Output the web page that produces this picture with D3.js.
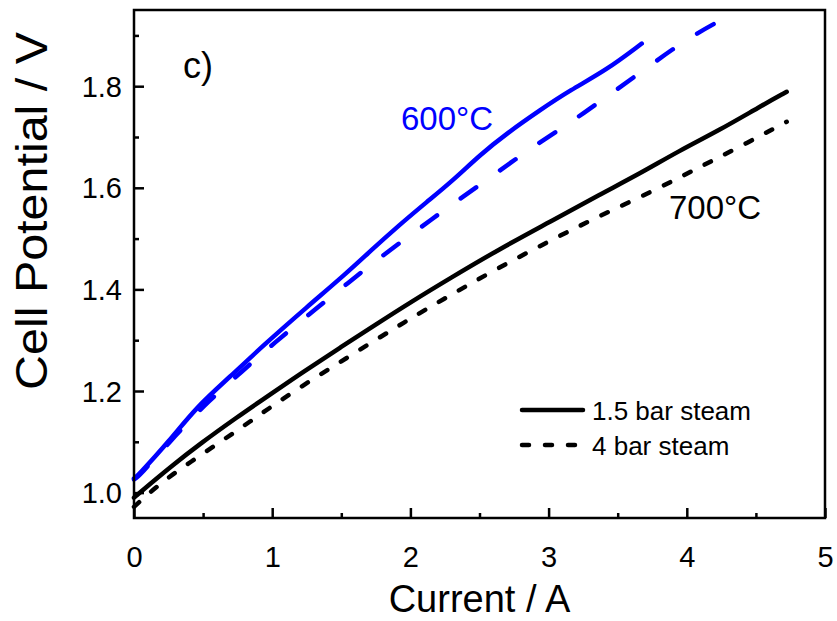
<!DOCTYPE html>
<html>
<head>
<meta charset="utf-8">
<script src="https://cdn.jsdelivr.net/npm/d3@7"></script>
<style>
	body { margin: 0; background: #fff; }
	text { font-family: "Liberation Sans", Arial, sans-serif; }
</style>
</head>
<body>
<div id="chart-area"></div>
<script>

// values (current in A, potential in V)
let blueSolidI = [0.0, 0.02, 0.26, 0.454, 0.695, 0.936, 1.25, 1.539, 1.708, 1.925, 2.118, 2.31, 2.504, 2.697, 2.938, 3.155, 3.42, 3.674];
let blueSolidV = [1.028, 1.031, 1.103, 1.169, 1.228, 1.29, 1.365, 1.432, 1.475, 1.528, 1.572, 1.615, 1.665, 1.707, 1.753, 1.792, 1.832, 1.884];

let blueDashI = [0.0, 0.03, 0.31, 0.538, 0.779, 1.02, 1.273, 1.527, 1.78, 2.07, 2.263, 2.576, 2.865, 3.155, 3.42, 3.71, 3.999, 4.24];
let blueDashV = [1.026, 1.03, 1.116, 1.18, 1.238, 1.296, 1.352, 1.408, 1.463, 1.521, 1.56, 1.62, 1.677, 1.728, 1.779, 1.836, 1.893, 1.929];

let blackSolidI = [0.0, 0.02, 0.284, 0.478, 0.743, 0.984, 1.225, 1.49, 1.756, 1.997, 2.287, 2.648, 3.01, 3.372, 3.661, 3.939, 4.24, 4.53, 4.723];
let blackSolidV = [0.99, 0.995, 1.055, 1.096, 1.148, 1.193, 1.238, 1.285, 1.332, 1.374, 1.422, 1.48, 1.533, 1.587, 1.628, 1.672, 1.714, 1.76, 1.789];

let blackDashI = [0.0, 0.212, 0.501, 0.767, 1.008, 1.273, 1.539, 1.804, 1.997, 2.214, 2.6, 3.01, 3.372, 3.782, 4.095, 4.385, 4.723];
let blackDashV = [0.972, 1.024, 1.077, 1.126, 1.172, 1.22, 1.265, 1.31, 1.342, 1.377, 1.437, 1.496, 1.545, 1.597, 1.641, 1.681, 1.73];

let xTicks = [0, 1, 2, 3, 4, 5];
let yTicks = [1.0, 1.2, 1.4, 1.6, 1.8];
let legendLabels = ["1.5 bar steam", "4 bar steam"];

let series = [
	{I: blueSolidI, V: blueSolidV, color: "#0000ff", dash: null},
	{I: blueDashI, V: blueDashV, color: "#0000ff", dash: "19,29"},
	{I: blackSolidI, V: blackSolidV, color: "#000", dash: null},
	{I: blackDashI, V: blackDashV, color: "#000", dash: "7,16"}
];

let margin = {top: 10, right: 12, bottom: 103, left: 134};
let width = 837 - margin.left - margin.right,
	height = 621 - margin.top - margin.bottom;

let svg = d3.select("#chart-area").append("svg")
	.attr("width", 837)
	.attr("height", 621)
	.append("g")
	.attr("transform", "translate(" + margin.left + "," + margin.top + ")");

// scales
let x = d3.scaleLinear().domain([0, 5]).range([0, width]);
let y = d3.scaleLinear().domain([0.95, 1.95]).range([height, 0]);

// curves
let line = d3.line()
	.x(d => x(d[0]))
	.y(d => y(d[1]))
	.curve(d3.curveBasis);

series.forEach(s => {
	svg.append("path")
		.datum(s.I.map((v, i) => [v, s.V[i]]))
		.attr("d", line)
		.attr("fill", "none")
		.attr("stroke", s.color)
		.attr("stroke-width", 4.5)
		.attr("stroke-linecap", "round")
		.attr("stroke-dasharray", s.dash);
});

// axes, ticks inward
let xAxis = d3.axisBottom(x).tickValues(d3.range(0, 5.01, 0.5))
	.tickSize(-5).tickFormat(d => xTicks.includes(d) ? d : "");
let yAxis = d3.axisLeft(y).tickValues(d3.range(1.0, 1.91, 0.1).map(v => +v.toFixed(1)))
	.tickSize(-5).tickFormat(d => yTicks.includes(d) ? d.toFixed(1) : "");

let xg = svg.append("g").attr("transform", `translate(0, ${height})`).call(xAxis);
let yg = svg.append("g").call(yAxis);

[xg, yg].forEach(g => {
	g.select(".domain").remove();
	g.selectAll("line").attr("stroke", "#000").attr("stroke-width", 2.5);
	g.selectAll("text").attr("font-size", 29).attr("fill", "#000");
});
xg.selectAll(".tick line").filter(d => xTicks.includes(d)).attr("y2", -10);
yg.selectAll(".tick line").filter(d => yTicks.includes(+d.toFixed(1))).attr("x2", 10);
xg.selectAll("text").attr("dy", 0).attr("y", 28).attr("dominant-baseline", "hanging");
yg.selectAll("text").attr("x", -12).attr("dy", "0.35em");

// frame
svg.append("rect")
	.attr("width", width).attr("height", height)
	.attr("fill", "none").attr("stroke", "#000").attr("stroke-width", 2.5);

// axis titles
svg.append("text")
	.attr("x", width / 2).attr("y", height + 94)
	.attr("text-anchor", "middle").attr("font-size", 38)
	.text("Current / A");

svg.append("text")
	.attr("transform", `translate(${47 - margin.left}, ${211 - margin.top}) rotate(-90)`)
	.attr("text-anchor", "middle").attr("font-size", 44)
	.attr("textLength", 358).attr("lengthAdjust", "spacingAndGlyphs")
	.text("Cell Potential / V");

// annotations
svg.append("text").attr("x", 183 - margin.left).attr("y", 78 - margin.top)
	.attr("font-size", 36).text("c)");
svg.append("text").attr("x", 401 - margin.left).attr("y", 130 - margin.top)
	.attr("font-size", 33).attr("fill", "#0000ff").text("600°C");
svg.append("text").attr("x", 669 - margin.left).attr("y", 219 - margin.top)
	.attr("font-size", 33).attr("fill", "#000").text("700°C");

// legend
let legend = svg.append("g").attr("transform", `translate(${520 - margin.left}, ${410 - margin.top})`);
legendLabels.forEach((label, i) => {
	legend.append("line")
		.attr("x1", 2).attr("x2", 63)
		.attr("y1", i * 35).attr("y2", i * 35)
		.attr("stroke", "#000").attr("stroke-width", 4.5)
		.attr("stroke-linecap", "round")
		.attr("stroke-dasharray", i === 0 ? null : "7,16");
	legend.append("text")
		.attr("x", 72).attr("y", i * 35 + 10)
		.attr("font-size", 26).text(label);
});

</script>
</body>
</html>
